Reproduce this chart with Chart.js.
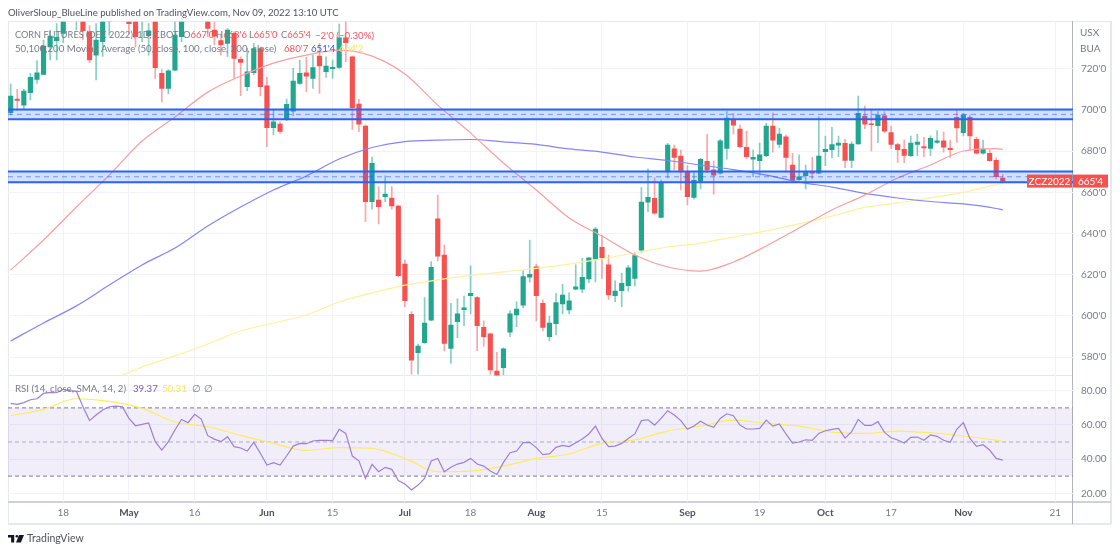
<!DOCTYPE html>
<html lang="en">
<head>
  <meta charset="UTF-8">
  <title>CORN FUTURES (DEC 2022)</title>
  <script src="https://cdn.jsdelivr.net/npm/chart.js"></script>
  <style>
    body {
      margin: 0;
      width: 1120px;
      height: 552px;
      overflow: hidden;
      background: #ffffff;
      font-family: 'Lato', sans-serif;
      color: #787b86;
      position: relative;
    }
    canvas { position: absolute; left: 0; }
    #priceChart { top: 0; }
    #rsiChart { top: 360px; }
    .txt { position: absolute; white-space: nowrap; line-height: 14px; font-size: 9.7px; z-index: 5; }
    .frame { position: absolute; background: #e6e8ef; }
    .axisline { position: absolute; background: #b2b5be; }
  </style>
</head>
<body>

  <div class="frame" style="left:8px;top:21px;width:1103px;height:1px"></div>
  <div class="frame" style="left:8px;top:21px;width:1px;height:503px"></div>
  <div class="frame" style="left:8px;top:523px;width:1103px;height:2px"></div>
  <div class="frame" style="left:1110px;top:21px;width:2px;height:503px"></div>
  <div class="frame" style="left:8px;top:375px;width:1065px;height:1px"></div>
  <div class="axisline" style="left:8px;top:501px;width:1103px;height:2px;background:#cfd1d8"></div>
  <div class="axisline" style="left:1072px;top:21px;width:1px;height:503px"></div>

  <canvas id="priceChart" width="1120" height="400"></canvas>
  <canvas id="rsiChart" width="1120" height="192"></canvas>

  <div class="txt" style="left:8px;top:5.5px;color:#50535e;font-size:9.6px">OliverSloup_BlueLine published on TradingView.com, Nov 09, 2022 13:10 UTC</div>

  <div class="txt" style="left:15px;top:27.5px;font-size:9.2px">CORN FUTURES (DEC 2022), 1D, CBOT</div>
  <div class="txt" style="left:183px;top:27.5px;font-size:9.4px">O<span style="color:#f7525f">667'0</span></div>
  <div class="txt" style="left:216px;top:27.5px;font-size:9.4px">H<span style="color:#f7525f">668'6</span></div>
  <div class="txt" style="left:249px;top:27.5px;font-size:9.4px">L<span style="color:#f7525f">665'0</span></div>
  <div class="txt" style="left:281px;top:27.5px;font-size:9.4px">C<span style="color:#f7525f">665'4</span></div>
  <div class="txt" style="left:315px;top:27.5px;color:#f7525f">−2'0 (−0.30%)</div>

  <div class="txt" style="left:15px;top:41px">50,100,200 Moving Average (50, close, 100, close, 200, close)</div>
  <div class="txt" style="left:284px;top:41px;color:#f7525f">680'7</div>
  <div class="txt" style="left:311px;top:41px;color:#2962ff">651'4</div>
  <div class="txt" style="left:339px;top:41px;color:#fbe84a">664'2</div>

  <div class="txt" style="left:15px;top:381px">RSI (14, close, SMA, 14, 2)</div>
  <div class="txt" style="left:133px;top:381px;color:#7e57c2">39.37</div>
  <div class="txt" style="left:162px;top:381px;color:#fbe84a">50.31</div>
  <div class="txt" style="left:192px;top:381px">∅</div>
  <div class="txt" style="left:204px;top:381px">∅</div>

  <div class="txt" style="left:1080px;top:25px;font-size:10px">USX</div>
  <div class="txt" style="left:1080px;top:41px;font-size:10px">BUA</div>

  <svg style="position:absolute;left:8px;top:534px" width="16" height="9" viewBox="0 0 36 20">
    <path d="M14 2H0v6h7v11h7V2Zm15 17 7-17H25l-7 17h11Z" fill="#131722"/>
    <circle cx="20" cy="5" r="3" fill="#131722"/>
  </svg>
  <div class="txt" style="left:27px;top:531px;color:#50535e;font-size:10.5px">TradingView</div>

  <script>
    // daily candles, index 0 is 6 Apr 2022
    const opens = [
      698.7,705.3,702.4,708.4,714.9,717.3,730.7,733.7,737.2,745,
      744,746,738,726.7,733.2,743,750,746,746,746,
      744,736.1,746,717.8,710.5,719.4,735.6,748,752,749,
      746,738.8,733.7,732.4,737.2,724.6,711.3,718.1,729.9,711.8,
      691.4,693.2,695.6,699.5,712.9,718.1,715.4,726.2,718.6,720.1,
      720.7,735.1,725.9,702.9,692.2,655.5,656.3,657.9,657.3,653.4,
      625.2,600.8,582.2,587,598,647.2,629.6,584.3,597.2,603.1,
      609.9,608.9,594.5,591.3,573.3,574.9,592.2,600.5,605.3,618.9,
      623.9,606.2,590,596.3,605.8,602.9,613,613,618,627.7,
      633.3,624.9,609.9,612.3,614.7,618.3,631.9,655.3,657.1,647.9,
      670,681.2,677.7,670,657.6,665.5,675.1,671,669.3,681.4,
      695.5,690.8,681.9,676.1,675.4,677.8,692.2,683.3,687,673.3,
      666.2,668.1,670.2,669.3,679.8,680.7,683,683.8,675.6,683.5,
      697.1,693.3,692.4,697.2,689,683.2,680.9,677.8,683.3,682.2,
      681.4,684.3,685,681.4,696.5,689,696.5,685.8,679.1,679,
      675.6,667
    ];
    const highs = [
      712.6,710,710,717.8,724,734,738.8,742,748,752,
      750,750,741,742,750,750,754,752,750,748,
      750,742,748,719.7,719.7,745,748,754,757,753,
      749,743,737,739.6,738,725.9,729.9,732.4,730.7,715.9,
      700,694.3,705.3,720.2,724.3,725.6,726.7,732.4,725.9,724.3,
      741.7,744,726.2,705.2,692.7,677.2,662.8,668,662.8,653.9,
      627.2,602.1,586.4,608.9,626.4,658.7,634.5,606.2,608.3,609.7,
      624.3,609.4,597.7,591.7,582.4,584.5,602.6,606.9,622,636.9,
      625.2,607.8,600,611,615.4,611.3,624.8,628,628.3,643,
      639.3,629.6,617.1,620.7,624.6,630.9,662.3,671.4,667.1,666,
      683.8,683,680.6,673,669.8,676.6,688.2,675.2,685.8,699.2,
      698.4,692.7,689.8,680.6,684,693.5,698.7,691.3,687.9,679,
      678.2,673.3,677,696.7,687.4,691.6,687.4,685.8,684.6,706.8,
      701.9,700.3,699.2,699.2,692.2,683.8,685.4,687.4,688.2,686.7,
      687.5,690,689.3,685.4,700.3,698.4,697.6,686.9,685.4,680.6,
      676.8,668.75
    ];
    const lows = [
      697.6,699.7,700.8,704.9,712.9,717,724.3,724.3,732.7,743.5,
      738.8,734,723,714.6,726,736.4,744,743.5,737,730.7,
      733.2,726.7,715.4,704,707.8,719,733.2,745,747,744,
      735.6,731.6,726.7,725.9,715.4,707,709.4,717,706.8,682.2,
      687.9,688.7,694.8,697.1,712.5,708.9,710.5,708.1,715.9,715.4,
      720.2,723.5,690.6,689.5,645.8,651.9,644.7,655.5,651.9,619.1,
      604.5,571.7,571.8,586.7,597.7,626.7,583,577,589.5,595.3,
      601,583.2,585.4,571.8,569,571.4,590,594.8,604,616.4,
      597.6,592.7,587.9,590.8,601,601,612.6,611.3,616.2,616.5,
      618.3,608.1,606.9,604.5,612.1,614.6,630.6,650.6,649.5,647.6,
      667,670.9,661.2,653.9,656.7,661.7,669.6,659.1,668.9,676.1,
      688.3,681.7,676.4,667.6,668.4,677.3,679.6,681.7,670,665.2,
      666,661.7,666.5,669.1,673,676.8,677.3,672,672,683.3,
      690.9,680.1,684.1,689,681.4,674.6,674.4,677.3,677.8,677.3,
      677.8,683.8,679.6,677,684.3,687.4,680.6,678.6,678.6,675.2,
      666.5,665
    ];
    const closes = [
      706.8,704.7,709.2,715.9,718.1,731.1,735.9,735.3,745,750,
      748,738.5,724.3,734,746,744,746,748,742,735.6,
      748,738.5,720.6,710.5,719.1,736.4,745,752,749,746,
      739.6,735.9,731.6,738.8,725.1,723.1,718.6,729.9,711.3,691.4,
      694.3,689.6,702.8,714.1,717.8,716.5,720.6,721.4,721.4,720.7,
      735.1,732.7,701.1,693.2,655.5,674.1,653.1,659.2,653.5,619.6,
      607.4,578.6,585.4,596.5,623.6,629.1,586.7,595.6,601.1,603.9,
      611,595.3,590,573.8,570.9,584.1,601,603.3,619.1,620.2,
      609.9,594.5,596.5,606.5,610.2,607.3,614.1,618.8,628.2,642.2,
      628.2,610.2,612.1,615.9,623.4,629.3,655.3,657.6,649.9,664.7,
      683,677,670,657.9,665.9,676.1,670.9,668.4,685,696.1,
      692.6,682.2,677.3,677,678.2,692.2,685.4,688.3,677,666,
      667.6,670.2,669.4,677.7,680.9,683.2,684,675.6,683.5,698.4,
      693.1,692.9,697.6,689.7,683.3,680.7,678,684,684.5,681.6,
      686.3,685,682,680.7,691.3,697.7,687.4,679.1,681.1,675.4,
      667.6,665.5
    ];

    // moving averages and RSI average, read every 5 bars
    const sampleIndex = [0,5,10,15,20,25,30,35,40,45,50,55,60,65,70,75,80,85,90,95,100,105,110,115,120,125,130,135,140,145,150,151];
    const ma50 = [622.3,636.9,652.9,668.4,685,696.6,708.7,716.5,722.8,726.7,729.1,726.2,717.5,702.4,688.8,674.3,661.2,647.6,638.8,629.6,623.8,621.8,626.2,634,642.7,651.5,658.7,667,673.3,680.1,681.3,680.9];
    const ma100 = [587.9,596.6,604.9,615,624.8,633,643.7,652.9,661.2,668,676.2,681.8,684.7,685.4,685.7,684.5,683.3,681.1,679.6,677.2,675.5,673.3,671.1,668.4,665,662.6,659.5,657.3,655.6,654.4,652.2,651.5];
    const ma200 = [null,null,null,568.4,575.2,580.6,586.4,592.7,596.6,600.5,606.8,611.2,615,617.5,619.7,621.4,623.1,625.2,627.7,630.6,633.5,635.4,638.3,641.3,644.7,648.5,652.7,654.9,657.5,660,663.8,664.25];
    const rsiSma = [65.4,69.1,75.3,73.8,69.7,61.7,58.9,53.9,49.2,45.1,46.7,46.3,40.4,32.6,33,35.9,40.4,43,49.2,51.2,56.4,59.3,62.8,60.9,59.3,55.8,55,56.4,55.4,53.5,51,50.31];

    const rsi = [
      72.6,72,73,74.7,75.3,78.4,79,78.8,80.8,80,
      79.6,70.6,62.5,65.8,68.7,70.6,71,70.6,63.8,59.5,
      60.3,61.1,50.2,45.3,50.2,57,63.2,61.3,66.2,63.4,
      53.7,51.7,50.2,53.1,47.3,46.5,44.7,49.8,43.4,36.5,
      37.9,36.5,41.8,47.6,49.2,49,50.6,51,51,50.8,
      57.4,55,41.8,39,28.7,36.9,32.6,35.2,34,27.4,
      25.4,21.9,24.8,28.7,38.9,40.4,32.6,35.2,37.1,38.1,
      40.4,37.1,35.9,33,31,38.1,43.7,44.7,49.6,49.8,
      46.7,42.6,43,46.9,48,47.3,49.6,51.7,54.7,59.3,
      52.1,47.3,47.6,49.2,52.1,54.7,62.5,63,59.9,63.8,
      68.3,65.8,62.5,57.4,59.3,62.1,59.9,58.6,63.8,66.5,
      65.4,59.9,57.6,57.6,58,62.8,59.3,60.5,54.7,49.4,
      50,51.3,51,55,56.6,57.4,58,52.3,56,63.2,
      59.7,59.7,61.9,55.6,52.5,51.2,49.4,52.7,52.9,51,
      54.1,53.3,51,49.8,57.4,61.3,52.1,47.4,48.4,45.3,
      40.4,39.37
    ];

    // zones drawn on the price pane: top, middle, bottom
    const zoneUpper = [700.3, 697.9, 695.5];
    const zoneLower = [670.2, 667.6, 665];
    const rsiLevels = [70, 50, 30];

    const timeTickIndex = [8,18,28,39,49,60,70,80,90,103,114,124,134,145,159];
    const timeTickLabels = ['18','May','16','Jun','15','Jul','18','Aug','15','Sep','19','Oct','17','Nov','21'];
    const monthLabels = ['May','Jun','Jul','Aug','Sep','Oct','Nov'];
    const priceTicks = [580,600,620,640,660,680,700,720];
    const rsiTicks = [20,40,60,80];

    const lastClose = 665.5;
    const lastClosePrice = "665'4";
    const symbolName = 'ZCZ2022';

    const upColor = '#22a68f';
    const downColor = '#f6504f';
    const upWick = 'rgba(34,166,143,0.55)';
    const downWick = 'rgba(246,80,79,0.5)';
    const gridColor = '#f1f3f9';
    const tickFont = { family: 'Lato', size: 10 };

    const xMin = -0.41;
    const xMax = 161.69;

    Chart.defaults.font.family = 'Lato';
    Chart.defaults.animation = false;

    function isUp(i) {
      return closes[i] >= opens[i];
    }

    function pickColors(up, down) {
      return closes.map((c, i) => isUp(i) ? up : down);
    }

    function flatLine(value, width, color, dash, order, fill, fillColor) {
      return {
        type: 'line',
        data: [{ x: xMin, y: value }, { x: xMax, y: value }],
        borderColor: color,
        borderWidth: width,
        borderDash: dash || [],
        pointRadius: 0,
        order: order,
        fill: fill || false,
        backgroundColor: fillColor || 'transparent'
      };
    }

    function sampledLine(values, color, order) {
      return {
        type: 'line',
        data: sampleIndex.map((x, k) => ({ x: x, y: values[k] })),
        borderColor: color,
        borderWidth: 1.2,
        pointRadius: 0,
        cubicInterpolationMode: 'monotone',
        order: order
      };
    }

    function timeAxis(showLabels) {
      return {
        type: 'linear',
        offset: false,
        min: xMin,
        max: xMax,
        afterBuildTicks: scale => { scale.ticks = timeTickIndex.map(v => ({ value: v })); },
        afterFit: scale => { scale.height = showLabels ? 21 : 0; },
        border: { display: false },
        grid: { color: gridColor, drawTicks: false, offset: false },
        ticks: {
          display: showLabels,
          autoSkip: false,
          maxRotation: 0,
          padding: 5,
          color: ctx => monthLabels.includes(timeTickLabels[ctx.index]) ? '#50535e' : '#787b86',
          font: ctx => monthLabels.includes(timeTickLabels[ctx.index])
            ? { family: 'Lato', size: 10, weight: 'bold' } : tickFont,
          callback: (v, i) => timeTickLabels[i]
        }
      };
    }

    function valueAxis(min, max, values, format) {
      return {
        position: 'right',
        min: min,
        max: max,
        afterBuildTicks: scale => { scale.ticks = values.map(v => ({ value: v })); },
        afterFit: scale => { scale.width = 38; },
        border: { display: false },
        grid: { color: gridColor, drawTicks: false },
        ticks: { padding: 8, color: '#787b86', font: tickFont, callback: format }
      };
    }

    // red tags with the last close, next to the price axis
    const lastPriceTag = {
      id: 'lastPriceTag',
      afterDraw(chart) {
        const ctx = chart.ctx;
        const y = chart.scales.y.getPixelForValue(lastClose);
        const right = chart.chartArea.right;
        ctx.save();
        ctx.fillStyle = downColor;
        ctx.fillRect(right - 46, y - 6.5, 45, 13);
        ctx.fillRect(right, y - 6.5, 35, 13);
        ctx.fillStyle = '#ffffff';
        ctx.font = '10px Lato';
        ctx.textBaseline = 'middle';
        ctx.textAlign = 'center';
        ctx.fillText(symbolName, right - 23.5, y + 0.5);
        ctx.fillText(lastClosePrice, right + 17.5, y + 0.5);
        ctx.restore();
      }
    };

    const bandBlue = '#2962ff';
    const bandFill = 'rgba(41,98,255,0.2)';
    const bandDash = 'rgba(41,98,255,0.6)';

    new Chart(document.getElementById('priceChart'), {
      type: 'bar',
      data: {
        datasets: [
          // wicks first, bodies on top
          {
            data: closes.map((c, i) => ({ x: i, y: [lows[i], highs[i]] })),
            backgroundColor: pickColors(upWick, downWick),
            barThickness: 1,
            grouped: false,
            order: 7
          },
          {
            data: closes.map((c, i) => ({ x: i, y: [opens[i], c] })),
            backgroundColor: pickColors(upColor, downColor),
            barThickness: 4.5,
            grouped: false,
            order: 6
          },
          sampledLine(ma50, '#f99f9f', 5),
          sampledLine(ma100, '#8585f7', 5),
          sampledLine(ma200, '#fdf19c', 5),
          flatLine(zoneUpper[0], 2, bandBlue, null, 3, '+1', bandFill),
          flatLine(zoneUpper[2], 2, bandBlue, null, 3),
          flatLine(zoneUpper[1], 1, bandDash, [5, 4], 2),
          flatLine(zoneLower[0], 2, bandBlue, null, 3, '+1', bandFill),
          flatLine(zoneLower[2], 2, bandBlue, null, 3),
          flatLine(zoneLower[1], 1, bandDash, [5, 4], 2)
        ]
      },
      options: {
        responsive: false,
        events: [],
        layout: { padding: { left: 8, right: 9, top: 21.7, bottom: 24.5 } },
        plugins: { legend: { display: false }, tooltip: { enabled: false } },
        scales: {
          x: timeAxis(false),
          y: valueAxis(571.1, 742.9, priceTicks, v => v + "'0")
        }
      },
      plugins: [lastPriceTag]
    });

    new Chart(document.getElementById('rsiChart'), {
      type: 'line',
      data: {
        datasets: [
          {
            data: rsi.map((v, i) => ({ x: i, y: v })),
            borderColor: '#9c80d8',
            borderWidth: 1.2,
            pointRadius: 0,
            order: 1
          },
          sampledLine(rsiSma, '#fdeb5e', 2),
          flatLine(rsiLevels[0], 1.3, '#9598a1', [4, 3], 3, '+2', 'rgba(126,87,194,0.1)'),
          flatLine(rsiLevels[1], 1, '#b2b5be', [4, 3], 3),
          flatLine(rsiLevels[2], 1.3, '#9598a1', [4, 3], 3)
        ]
      },
      options: {
        responsive: false,
        events: [],
        layout: { padding: { left: 8, right: 9, top: 16, bottom: 29.5 } },
        plugins: { legend: { display: false }, tooltip: { enabled: false } },
        scales: {
          x: timeAxis(true),
          y: valueAxis(15.2, 88.6, rsiTicks, v => v.toFixed(2))
        }
      }
    });
  </script>

</body>
</html>
